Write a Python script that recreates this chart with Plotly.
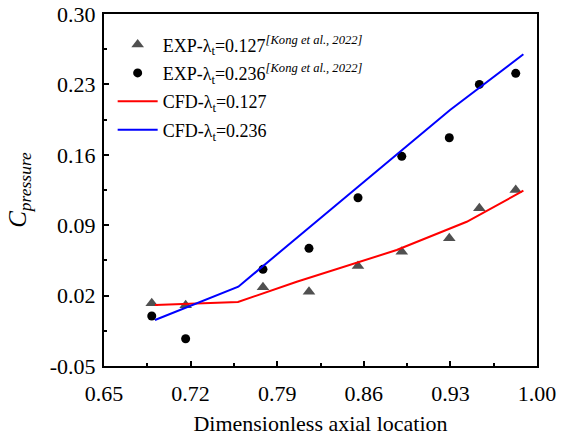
import plotly.graph_objects as go

# Experimental data (Kong et al., 2022)
exp127_x = [0.6886, 0.716, 0.7785, 0.8157, 0.8553, 0.8907, 0.9291, 0.9534, 0.9828]
exp127_y = [0.0123, 0.0104, 0.0282, 0.0239, 0.0494, 0.0637, 0.0771, 0.1068, 0.1250]
exp236_x = [0.6886, 0.716, 0.7785, 0.8157, 0.8553, 0.8907, 0.9291, 0.9534, 0.9828]
exp236_y = [-0.0003, -0.0229, 0.0461, 0.0670, 0.1173, 0.1585, 0.1770, 0.2300, 0.2410]

# CFD results
cfd127_x = [0.6912, 0.7583, 0.8058, 0.8866, 0.9432, 0.9890]
cfd127_y = [0.0107, 0.0136, 0.0338, 0.0653, 0.0934, 0.1243]
cfd236_x = [0.6912, 0.7586, 0.9297, 0.9890]
cfd236_y = [-0.0043, 0.0289, 0.2045, 0.2600]

x_ticks = [0.65, 0.72, 0.79, 0.86, 0.93, 1.00]
y_ticks = [-0.05, 0.02, 0.09, 0.16, 0.23, 0.30]
x_minor = [0.685, 0.755, 0.825, 0.895, 0.965]
y_minor = [-0.015, 0.055, 0.125, 0.195, 0.265]

FONT = "Liberation Serif"
ref = "<sup><i>[Kong et al., 2022]</i></sup>"

fig = go.Figure()
fig.add_trace(go.Scatter(
    x=exp127_x, y=exp127_y, mode="markers",
    marker=dict(symbol="triangle-up", size=11, color="#505050"),
    name="EXP-λ<sub>t</sub>=0.127" + ref, legendgroup="a"))
fig.add_trace(go.Scatter(
    x=exp236_x, y=exp236_y, mode="markers",
    marker=dict(symbol="circle", size=9, color="black"),
    name="EXP-λ<sub>t</sub>=0.236" + ref, legendgroup="b"))
fig.add_trace(go.Scatter(
    x=cfd127_x, y=cfd127_y, mode="lines",
    line=dict(color="#ff0000", width=2),
    name="CFD-λ<sub>t</sub>=0.127", legendgroup="c"))
fig.add_trace(go.Scatter(
    x=cfd236_x, y=cfd236_y, mode="lines",
    line=dict(color="#0000ff", width=2),
    name="CFD-λ<sub>t</sub>=0.236", legendgroup="d"))

axis_common = dict(
    showgrid=False, zeroline=False, showline=True, linecolor="black", linewidth=2,
    mirror=True, ticks="inside", ticklen=5, tickwidth=1.5, tickcolor="black",
    tickfont=dict(family=FONT, size=22, color="black"),
)

fig.update_layout(
    width=566, height=439,
    margin=dict(l=104, r=29, t=14, b=73, autoexpand=False),
    paper_bgcolor="white", plot_bgcolor="white",
    font=dict(family=FONT, size=18, color="black"),
    showlegend=True,
    legend=dict(
        x=0.02, y=0.965, xanchor="left", yanchor="top",
        bgcolor="rgba(0,0,0,0)", borderwidth=0,
        font=dict(family=FONT, size=18, color="black"),
        tracegroupgap=2, traceorder="grouped", itemwidth=40,
    ),
    xaxis=dict(
        range=[0.65, 1.00], tickvals=x_ticks, ticktext=[f"{v:.2f}" for v in x_ticks],
        ticklabelstandoff=7,
        title=dict(text="Dimensionless axial location", font=dict(family=FONT, size=22, color="black"), standoff=10),
        minor=dict(tickvals=x_minor, ticks="inside", ticklen=3, tickwidth=1.5, tickcolor="black"),
        **axis_common),
    yaxis=dict(
        range=[-0.05, 0.30], tickvals=y_ticks, ticktext=[f"{v:.2f}" for v in y_ticks],
        ticklabelstandoff=2,
        title=dict(text="<i>C</i><sub><i>pressure</i></sub>", font=dict(family=FONT, size=25, color="black"), standoff=16),
        minor=dict(tickvals=y_minor, ticks="inside", ticklen=3, tickwidth=1.5, tickcolor="black"),
        **axis_common),
)

fig.write_html("out.html", config={"displayModeBar": False},
               post_script="document.body.style.margin='0';")
